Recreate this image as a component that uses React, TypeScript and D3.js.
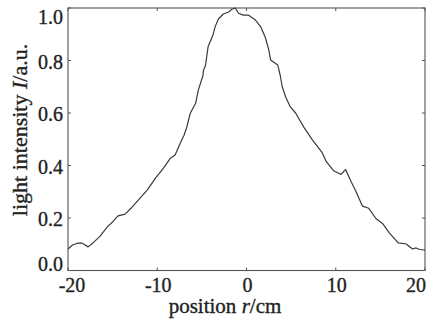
import * as React from 'react';
import * as d3 from 'd3';

// beam profile: position r (cm) and normalised intensity
const positions = [
  -20.0, -19.5, -19.0, -18.5, -18.2, -17.75, -17.2, -16.4, -15.6, -15.0,
  -14.4, -13.6, -12.8, -12.1, -11.1, -10.2, -9.3, -8.5, -8.0, -7.4,
  -7.0, -6.7, -6.3, -5.7, -5.4, -4.9, -4.8, -4.6, -4.3, -3.8,
  -3.5, -3.15, -2.6, -2.0, -1.6, -1.25, -0.9, -0.35, 0.2, 1.0,
  1.6, 2.1, 2.5, 2.7, 3.5, 3.8, 4.0, 4.4, 4.9, 5.5,
  6.4, 7.4, 8.5, 8.9, 9.8, 10.6, 11.1, 11.7, 12.25, 13.0,
  13.7, 14.5, 15.3, 16.0, 17.0, 17.9, 18.6, 19.0, 19.4, 19.9, 20.0
];
const intensities = [
  0.082, 0.097, 0.103, 0.105, 0.100, 0.090, 0.105, 0.131, 0.166, 0.185,
  0.208, 0.215, 0.242, 0.269, 0.307, 0.352, 0.390, 0.429, 0.440, 0.487,
  0.515, 0.545, 0.599, 0.637, 0.687, 0.740, 0.765, 0.780, 0.853, 0.893,
  0.930, 0.958, 0.977, 0.985, 0.996, 1.000, 0.980, 0.973, 0.973, 0.954,
  0.928, 0.889, 0.840, 0.802, 0.783, 0.740, 0.700, 0.660, 0.624, 0.600,
  0.547, 0.497, 0.448, 0.417, 0.379, 0.366, 0.385, 0.340, 0.302, 0.245,
  0.237, 0.198, 0.177, 0.143, 0.105, 0.101, 0.082, 0.086, 0.080, 0.078, 0.078
];
const xTicks = [-20, -10, 0, 10, 20];
const yTicks = [0, 0.2, 0.4, 0.6, 0.8, 1.0];

const W = 430, H = 322;
const frame = { left: 68, right: 425, top: 8, bottom: 270.5 };
const font = '"Liberation Serif", "Times New Roman", serif';

export default function App() {
  const x = d3.scaleLinear().domain([-20, 20]).range([frame.left, frame.right]);
  const y = d3.scaleLinear().domain([0, 1]).range([frame.bottom, frame.top]);

  const pts: [number, number][] = positions.map((p, i) => [p, intensities[i]]);
  const line = d3.line<[number, number]>()
    .x(d => x(d[0]))
    .y(d => y(d[1]));

  const tickLen = 3;
  const axisColor = '#555';
  const textColor = '#222';
  // the scan makes the type look heavy, a thin outline imitates that
  const ink = { fill: textColor, stroke: textColor, strokeWidth: 0.35 };

  // end labels sit a little inside the frame, as in the scan
  const yLabelShift = (v: number) => (v === 1 ? 9 : v === 0 ? -7 : 1);
  const xLabelShift = (v: number) => (v === -20 ? 4 : v === 20 ? -9 : 1);

  return (
    <svg width={W} height={H} style={{ position: 'absolute', left: 0, top: 0, background: '#fff' }}
      fontFamily={font}>
      <rect x={frame.left} y={frame.top} width={frame.right - frame.left} height={frame.bottom - frame.top}
        fill="none" stroke={axisColor} strokeWidth={1.1} />

      {xTicks.map(t => (
        <g key={'x' + t}>
          <line x1={x(t)} x2={x(t)} y1={frame.bottom} y2={frame.bottom - tickLen} stroke={axisColor} />
          <line x1={x(t)} x2={x(t)} y1={frame.top} y2={frame.top + tickLen} stroke={axisColor} />
          <text x={x(t) + xLabelShift(t)} y={292} textAnchor="middle" fontSize={20} {...ink}>
            {t < 0 ? '-' + Math.abs(t) : String(t)}
          </text>
        </g>
      ))}

      {yTicks.map(t => (
        <g key={'y' + t}>
          <line x1={frame.left} x2={frame.left + tickLen} y1={y(t)} y2={y(t)} stroke={axisColor} />
          <line x1={frame.right} x2={frame.right - tickLen} y1={y(t)} y2={y(t)} stroke={axisColor} />
          <text x={63} y={y(t) + yLabelShift(t)} dy="0.35em" textAnchor="end" fontSize={20} {...ink}>
            {t.toFixed(1)}
          </text>
        </g>
      ))}

      <path d={line(pts) || ''} fill="none" stroke="#3a3a3a" strokeWidth={1.2} strokeLinejoin="round" />

      <text x={225} y={313} textAnchor="middle" fontSize={21} {...ink}>
        position <tspan fontStyle="italic">r</tspan>/cm
      </text>
      <text transform="translate(27,130) rotate(-90)" textAnchor="middle" fontSize={22} {...ink}>
        light intensity <tspan fontStyle="italic">I</tspan>/a.u.
      </text>
    </svg>
  );
}
